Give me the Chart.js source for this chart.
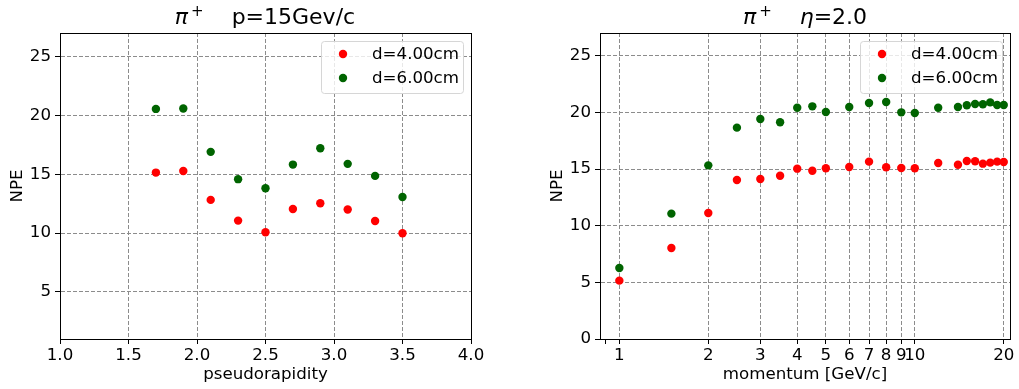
<!DOCTYPE html>
<html>
<head>
<meta charset="utf-8">
<title>NPE vs pseudorapidity and momentum</title>
<script src="https://cdn.jsdelivr.net/npm/chart.js@4.4.1/dist/chart.umd.min.js"></script>
<style>
  body { margin: 0; background: #fff; }
  #wrap { position: relative; width: 1019px; height: 389px; font-family: 'DejaVu Sans', sans-serif; overflow: hidden; }
  #wrap canvas { position: absolute; top: 0; }
  .plot-title { position: absolute; top: 6px; font-size: 22px; line-height: 22px; white-space: pre; transform: translateX(-50%); color: #000; }
  .plot-title sup { font-size: 15px; vertical-align: 8px; line-height: 0; margin-left: 3px; }
</style>
</head>
<body>
<div id="wrap">
  <canvas id="etaChart" width="510" height="389" style="left:0"></canvas>
  <canvas id="momChart" width="509" height="389" style="left:510px"></canvas>
  <div class="plot-title" style="left:265px"><i>π</i><sup>+</sup>    p=15Gev/c</div>
  <div class="plot-title" style="left:805px"><i>π</i><sup>+</sup>    <i>η</i>=2.0</div>
</div>
<script>
// pion at p = 15 GeV/c, scan in pseudorapidity
const etaValues = [1.7, 1.9, 2.1, 2.3, 2.5, 2.7, 2.9, 3.1, 3.3, 3.5];
const etaNpe4cm = [15.14, 15.28, 12.82, 11.06, 10.07, 12.05, 12.54, 12.0, 11.03, 9.99];
const etaNpe6cm = [20.55, 20.58, 16.9, 14.58, 13.81, 15.82, 17.21, 15.88, 14.86, 13.07];

// pion at eta = 2.0, scan in momentum
const momValues = [1, 1.5, 2, 2.5, 3, 3.5, 4, 4.5, 5, 6, 7, 8, 9, 10, 12, 14, 15, 16, 17, 18, 19, 20];
const momNpe4cm = [5.15, 8.03, 11.12, 14.03, 14.12, 14.41, 15.03, 14.85, 15.06, 15.18, 15.65, 15.15, 15.09, 15.06, 15.53, 15.38, 15.7, 15.68, 15.47, 15.56, 15.65, 15.62];
const momNpe6cm = [6.26, 11.06, 15.32, 18.65, 19.41, 19.12, 20.41, 20.53, 20.03, 20.47, 20.82, 20.91, 20.0, 19.94, 20.41, 20.47, 20.62, 20.74, 20.71, 20.88, 20.65, 20.65];

const seriesLabels = ['d=4.00cm', 'd=6.00cm'];
const etaTicks = [1.0, 1.5, 2.0, 2.5, 3.0, 3.5, 4.0];
const npeTicksEta = [5, 10, 15, 20, 25];
const npeTicksMom = [0, 5, 10, 15, 20, 25];
const momTicks = [0.9, 1, 2, 3, 4, 5, 6, 7, 8, 9, 10, 20];

const colors = {
    d4: '#ff0000',
    d6: '#006400',
    grid: '#8c8c8c',
    text: '#000',
};
const FONT = 'DejaVu Sans';
const FS = 16.67;

function toPoints(xs, ys) {
    return xs.map((x, i) => ({ x: x, y: ys[i] }));
}

// axes frame on all four sides plus the legend box in the upper right
const frameAndLegend = {
    id: 'frameAndLegend',
    afterDraw(chart) {
        const ctx = chart.ctx;
        const a = chart.chartArea;
        ctx.save();
        ctx.strokeStyle = '#000';
        ctx.lineWidth = 1;
        ctx.strokeRect(Math.round(a.left) + 0.5, Math.round(a.top) + 0.5,
            Math.round(a.right - a.left), Math.round(a.bottom - a.top));

        const w = 142, h = 52;
        const x = a.right - 8 - w, y = a.top + 8;
        ctx.beginPath();
        ctx.roundRect(x + 0.5, y + 0.5, w, h, 3);
        ctx.fillStyle = 'rgba(255,255,255,0.8)';
        ctx.fill();
        ctx.strokeStyle = '#d6d6d6';
        ctx.stroke();

        ctx.font = FS + 'px "' + FONT + '"';
        ctx.textBaseline = 'middle';
        ctx.textAlign = 'left';
        chart.data.datasets.forEach((ds, i) => {
            const cy = y + 13 + 24 * i;
            ctx.beginPath();
            ctx.arc(x + 22, cy, 4.2, 0, Math.PI * 2);
            ctx.fillStyle = ds.backgroundColor;
            ctx.fill();
            ctx.fillStyle = colors.text;
            ctx.fillText(ds.label, x + 51, cy + 1);
        });
        ctx.restore();
    }
};

function datasets(xs, a, b) {
    return [
        { label: seriesLabels[0], data: toPoints(xs, a), backgroundColor: colors.d4 },
        { label: seriesLabels[1], data: toPoints(xs, b), backgroundColor: colors.d6 },
    ];
}

function gridOpts(extra) {
    return Object.assign({
        color: colors.grid,
        lineWidth: 1,
        tickColor: '#000',
        tickLength: 5,
        drawTicks: true,
    }, extra || {});
}

function baseOptions() {
    return {
        responsive: false,
        animation: false,
        events: [],
        elements: { point: { radius: 4.2, borderWidth: 0, hoverRadius: 4.2 } },
        plugins: { legend: { display: false }, tooltip: { enabled: false }, title: { display: false } },
    };
}

const tickFont = { family: FONT, size: FS };

// left panel: NPE vs pseudorapidity
const etaOpts = baseOptions();
etaOpts.layout = { padding: { top: 33, right: 39, left: 0, bottom: 0 } };
etaOpts.scales = {
    x: {
        type: 'linear', min: 1, max: 4,
        afterBuildTicks: s => { s.ticks = etaTicks.map(v => ({ value: v })); },
        afterFit: s => { s.height = 50; },
        ticks: { font: tickFont, color: colors.text, padding: 2, maxRotation: 0, autoSkip: false, callback: v => v.toFixed(1) },
        grid: gridOpts(),
        border: { color: '#000', dash: [4, 2] },
        title: { display: true, text: 'pseudorapidity', font: tickFont, color: colors.text, padding: { top: 0, bottom: 4 } },
    },
    y: {
        type: 'linear', min: 1, max: 27,
        afterBuildTicks: s => { s.ticks = npeTicksEta.map(v => ({ value: v })); },
        afterFit: s => { s.width = 60; },
        ticks: { font: tickFont, color: colors.text, padding: 4 },
        grid: gridOpts(),
        border: { color: '#000', dash: [4, 2] },
        title: { display: true, text: 'NPE', font: tickFont, color: colors.text, padding: { top: 8, bottom: 4 } },
    },
};

new Chart(document.getElementById('etaChart'), {
    type: 'scatter',
    data: { datasets: datasets(etaValues, etaNpe4cm, etaNpe6cm) },
    options: etaOpts,
    plugins: [frameAndLegend],
});

// right panel: NPE vs momentum, log x axis
const momOpts = baseOptions();
momOpts.layout = { padding: { top: 33, right: 9, left: 0, bottom: 0 } };
momOpts.scales = {
    x: {
        type: 'logarithmic', min: 0.86, max: 21,
        afterBuildTicks: s => { s.ticks = momTicks.map(v => ({ value: v })); },
        afterFit: s => { s.height = 50; },
        ticks: { font: tickFont, color: colors.text, padding: 2, maxRotation: 0, autoSkip: false,
            callback: v => (v < 1 ? '' : String(v)) },
        grid: gridOpts({ color: c => (c.tick && c.tick.value < 1 ? 'rgba(0,0,0,0)' : colors.grid) }),
        border: { color: '#000', dash: [4, 2] },
        title: { display: true, text: 'momentum [GeV/c]', font: tickFont, color: colors.text, padding: { top: 0, bottom: 4 } },
    },
    y: {
        type: 'linear', min: 0, max: 27,
        afterBuildTicks: s => { s.ticks = npeTicksMom.map(v => ({ value: v })); },
        afterFit: s => { s.width = 90; },
        ticks: { font: tickFont, color: colors.text, padding: 4 },
        grid: gridOpts(),
        border: { color: '#000', dash: [4, 2] },
        title: { display: true, text: 'NPE', font: tickFont, color: colors.text, padding: { top: 38, bottom: 4 } },
    },
};

new Chart(document.getElementById('momChart'), {
    type: 'scatter',
    data: { datasets: datasets(momValues, momNpe4cm, momNpe6cm) },
    options: momOpts,
    plugins: [frameAndLegend],
});
</script>
</body>
</html>
